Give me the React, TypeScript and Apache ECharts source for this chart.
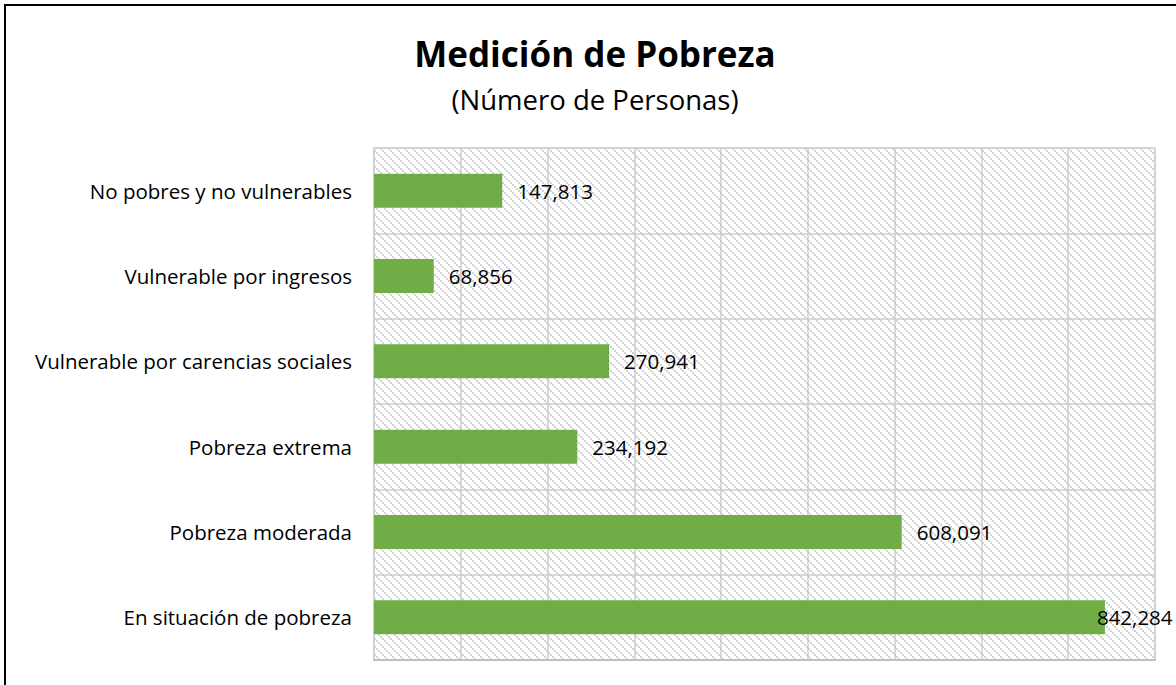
import React, { useEffect, useRef } from "react";
import * as echarts from "echarts";

const categories = [
  "No pobres y no vulnerables",
  "Vulnerable por ingresos",
  "Vulnerable por carencias sociales",
  "Pobreza extrema",
  "Pobreza moderada",
  "En situación de pobreza",
];
const values = [147813, 68856, 270941, 234192, 608091, 842284];
const titleText = "Medición de Pobreza";
const subtitleText = "(Número de Personas)";

const FONT = "'Open Sans', 'Noto Sans', sans-serif";

function makeHatch(): HTMLCanvasElement {
  const c = document.createElement("canvas");
  const s = 8;
  c.width = s;
  c.height = s;
  const ctx = c.getContext("2d")!;
  ctx.fillStyle = "#ffffff";
  ctx.fillRect(0, 0, s, s);
  ctx.fillStyle = "#d4d4d4";
  for (let i = 0; i < s; i += 2) {
    ctx.fillRect(i, i, 2, 2);
  }
  return c;
}

export default function App() {
  const ref = useRef<HTMLDivElement>(null);
  useEffect(() => {
    if (!ref.current) return;
    const chart = echarts.init(ref.current, null, { renderer: "svg" });
    const hatch = makeHatch();
    chart.setOption({
      animation: false,
      backgroundColor: "#ffffff",
      title: {
        text: titleText,
        subtext: subtitleText,
        left: 590,
        top: 31,
        textAlign: "center",
        itemGap: 14,
        textStyle: { fontFamily: FONT, fontSize: 35, fontWeight: "bold", color: "#000" },
        subtextStyle: { fontFamily: FONT, fontSize: 27.5, color: "#000" },
      },
      grid: {
        left: 374,
        right: 21,
        top: 148,
        bottom: 25,
        show: true,
        backgroundColor: { image: hatch, repeat: "repeat" },
        borderColor: "#d9d9d9",
        borderWidth: 1,
      },
      xAxis: {
        type: "value",
        min: 0,
        max: 900000,
        interval: 100000,
        axisLabel: { show: false },
        axisTick: { show: false },
        axisLine: { show: true, lineStyle: { color: "#bfbfbf", width: 2 } },
        splitLine: { show: true, lineStyle: { color: "#cccccc", width: 1.5 } },
      },
      yAxis: {
        type: "category",
        data: categories,
        inverse: true,
        axisTick: { show: false },
        axisLine: { show: true, lineStyle: { color: "#d0d0d0", width: 2 } },
        splitLine: { show: true, lineStyle: { color: "#cccccc", width: 1.5 } },
        axisLabel: { margin: 22, fontFamily: FONT, fontSize: 20.5, color: "#000" },
      },
      series: [
        {
          type: "bar",
          data: values.map((v, i) =>
            i === values.length - 1
              ? { value: v, label: { offset: [-23, 0] } }
              : { value: v }
          ),
          barWidth: 34,
          itemStyle: { color: "#70ad47" },
          label: {
            show: true,
            position: "right",
            distance: 15,
            fontFamily: FONT,
            fontSize: 20.5,
            color: "#000",
            formatter: (p: any) => Number(p.value).toLocaleString("en-US"),
          },
        },
      ],
      graphic: [
        {
          type: "rect",
          shape: { x: 5, y: 5, width: 1200, height: 700 },
          style: { fill: "none", stroke: "#000", lineWidth: 2 },
          silent: true,
        },
      ],
    });
    return () => chart.dispose();
  }, []);
  return (
    <div
      ref={ref}
      style={{ position: "absolute", left: 0, top: 0, width: 1176, height: 685 }}
    />
  );
}
